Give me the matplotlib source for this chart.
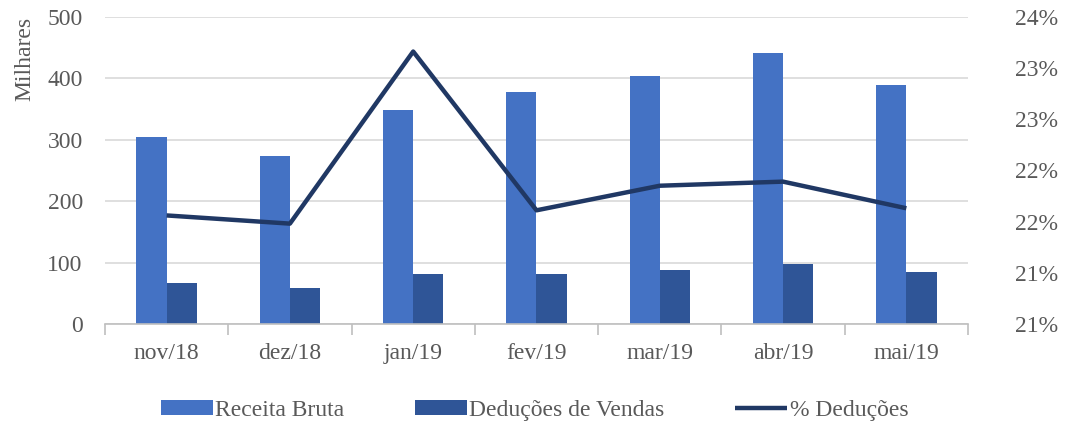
import numpy as np
import matplotlib
matplotlib.use("Agg")
import matplotlib.pyplot as plt

meses = ["nov/18", "dez/18", "jan/19", "fev/19", "mar/19", "abr/19", "mai/19"]
receita_bruta = [305, 273, 348, 377, 403, 441, 389]
deducoes_vendas = [66, 59, 81, 81, 88, 97, 85]
pct_deducoes = [21.56, 21.48, 23.16, 21.61, 21.85, 21.89, 21.63]
pct_ticks = [20.5, 21.0, 21.5, 22.0, 22.5, 23.0, 23.5]
pct_labels = ["21%", "21%", "22%", "22%", "23%", "23%", "24%"]

plt.rcParams['font.family'] = ['Liberation Serif', 'DejaVu Serif']
txt = "#595959"
fs = 17

fig = plt.figure(figsize=(10.69, 4.25), dpi=100)
ax = fig.add_axes([0.0982, 0.2376, 0.8073, 0.7231])
ax2 = ax.twinx()

x = np.arange(len(meses))
w = 0.245
b1 = ax.bar(x - w / 2, receita_bruta, w, color="#4472C4", zorder=2, label="Receita Bruta")
b2 = ax.bar(x + w / 2, deducoes_vendas, w, color="#2F5597", zorder=2, label="Deduções de Vendas")
ln, = ax2.plot(x, pct_deducoes, color="#203864", lw=3.2, solid_capstyle="butt", label="% Deduções")

ax.set_xlim(-0.5, len(meses) - 0.5)
ax.set_ylim(0, 500)
ax.set_yticks(range(0, 501, 100))
ax.yaxis.grid(True, color="#d9d9d9", lw=1.2, zorder=0)
ax.set_axisbelow(True)
ax2.set_ylim(20.5, 23.5)
ax2.set_yticks(pct_ticks)
ax2.set_yticklabels(pct_labels)

for a in (ax, ax2):
    for s in ("top", "left", "right", "bottom"):
        a.spines[s].set_visible(False)
ax.spines["bottom"].set_visible(True)
ax.spines["bottom"].set_color("#bfbfbf")
ax.spines["bottom"].set_linewidth(1.2)

ax.set_xticks(np.arange(-0.5, len(meses), 1), minor=False)
ax.set_xticklabels([])
ax.set_xticks(x, minor=True)
ax.set_xticklabels(meses, minor=True)
ax.tick_params(axis="x", which="major", length=8, color="#bfbfbf", width=1.2)
ax.tick_params(axis="x", which="minor", length=0, pad=14, labelsize=fs, labelcolor=txt)
ax.tick_params(axis="y", length=0, labelsize=fs, labelcolor=txt, pad=16)
ax2.tick_params(axis="y", length=0, labelsize=fs, labelcolor=txt, pad=34)

ax.set_ylabel("Milhares", fontsize=fs, color=txt, loc="top", labelpad=9)

fig.legend([b1, b2, ln], ["Receita Bruta", "Deduções de Vendas", "% Deduções"],
           loc="center", bbox_to_anchor=(0.5, 0.035), ncol=3, frameon=False,
           fontsize=fs, labelcolor=txt, handlelength=2.2, handletextpad=0.1,
           columnspacing=3.0, handleheight=0.6)

fig.savefig("out.png", dpi=100)
